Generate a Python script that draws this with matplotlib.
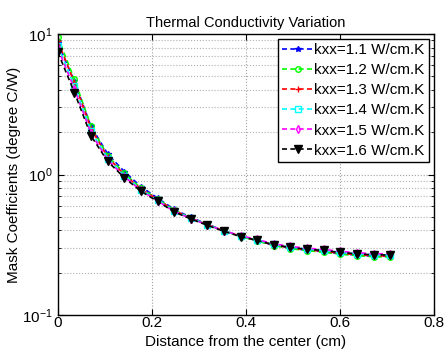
import numpy as np
import matplotlib
matplotlib.use("Agg")
import matplotlib.pyplot as plt

plt.rcParams['font.family'] = ['Liberation Sans', 'DejaVu Sans']
plt.rcParams['mathtext.fontset'] = 'custom'
plt.rcParams['mathtext.rm'] = 'Liberation Sans'

x = np.linspace(0, 0.707, 21)

labels = ["kxx=1.1 W/cm.K", "kxx=1.2 W/cm.K", "kxx=1.3 W/cm.K",
          "kxx=1.4 W/cm.K", "kxx=1.5 W/cm.K", "kxx=1.6 W/cm.K"]

k11 = [8.6, 4.6, 2.2, 1.40, 1.05, 0.82, 0.68, 0.565, 0.495, 0.443, 0.398, 0.363, 0.338, 0.313, 0.299, 0.289, 0.282, 0.273, 0.267, 0.262, 0.262]
k12 = [9.5, 4.75, 2.2, 1.36, 1.02, 0.80, 0.67, 0.56, 0.49, 0.44, 0.397, 0.362, 0.337, 0.312, 0.297, 0.287, 0.28, 0.271, 0.265, 0.26, 0.259]
k13 = [8.9, 4.5, 2.12, 1.33, 1.0, 0.79, 0.665, 0.556, 0.49, 0.44, 0.398, 0.364, 0.34, 0.315, 0.301, 0.291, 0.284, 0.275, 0.269, 0.264, 0.263]
k14 = [8.2, 4.25, 2.03, 1.30, 0.98, 0.78, 0.655, 0.55, 0.488, 0.439, 0.397, 0.365, 0.342, 0.318, 0.305, 0.295, 0.289, 0.28, 0.274, 0.269, 0.268]
k15 = [7.9, 4.05, 1.96, 1.27, 0.965, 0.77, 0.65, 0.546, 0.486, 0.438, 0.398, 0.367, 0.345, 0.321, 0.308, 0.299, 0.293, 0.284, 0.278, 0.273, 0.273]
k16 = [7.4, 3.83, 1.88, 1.24, 0.95, 0.76, 0.645, 0.542, 0.483, 0.435, 0.394, 0.362, 0.34, 0.316, 0.303, 0.294, 0.288, 0.279, 0.273, 0.268, 0.268]

series = [k11, k12, k13, k14, k15, k16]
colors = ['#0000ff', '#00ff00', '#ff0000', '#00ffff', '#ff00ff', '#000000']
markers = ['*', 'o', '+', 's', 'd', 'v']
msizes = [4, 4, 5, 4, 4, 6]

fig = plt.figure(figsize=(4.45, 3.54), dpi=100)
ax = fig.add_axes([0.130, 0.110, 0.845, 0.794])

for ys, c, m, ms, lab in zip(series, colors, markers, msizes, labels):
    ax.plot(x, ys, linestyle='--', color=c, marker=m, markersize=ms,
            markerfacecolor=c if m in ('v', '*') else 'none', markeredgecolor=c,
            linewidth=1.2, label=lab, dashes=(3, 2))

ax.set_yscale('log')
ax.set_xlim(0, 0.8)
ax.set_ylim(0.1, 10)
ax.set_xticks([0, 0.2, 0.4, 0.6, 0.8])
ax.set_xticklabels(['0', '0.2', '0.4', '0.6', '0.8'])

ax.grid(True, which='major', linestyle=':', color='#a0a0a0', linewidth=0.8)
ax.grid(True, which='minor', axis='y', linestyle=':', color='#b0b0b0', linewidth=0.8)
ax.tick_params(which='both', direction='in', top=True, right=True, labelsize=11)
ax.tick_params(which='major', length=4)
ax.tick_params(axis='x', which='major', pad=1)
ax.tick_params(which='minor', length=2)
for s in ax.spines.values():
    s.set_linewidth(1.0)

ax.set_title("Thermal Conductivity Variation", fontsize=10.5, pad=5)
ax.set_xlabel("Distance from the center (cm)", fontsize=11)
ax.xaxis.set_label_coords(0.5, -0.072)
ax.set_ylabel("Mask Coefficients (degree C/W)", fontsize=11, labelpad=1)

leg = ax.legend(loc='upper right', fontsize=11, frameon=True, fancybox=False,
                edgecolor='black', framealpha=1, handlelength=2.0,
                handletextpad=0.1, borderpad=0.3, labelspacing=0.4,
                borderaxespad=0.3, numpoints=1)
leg.get_frame().set_linewidth(1.0)

fig.savefig("out.png", dpi=100)
